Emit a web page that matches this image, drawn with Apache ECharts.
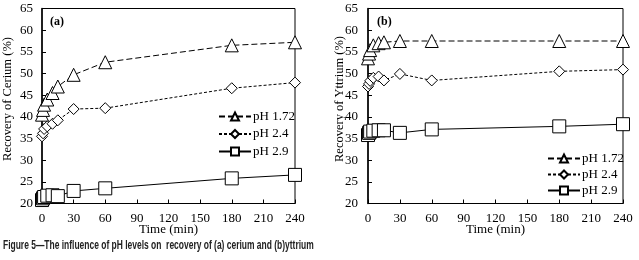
<!DOCTYPE html>
<html>
<head>
<meta charset="utf-8">
<script src="https://cdn.jsdelivr.net/npm/echarts@6/dist/echarts.min.js"></script>
<style>html,body{margin:0;padding:0;background:#fff}#c{width:639px;height:260px}</style>
</head>
<body>
<div id="c"></div>
<script>
var times = [0, 1, 2, 5, 10, 15, 30, 60, 180, 240];
var seriesNames = ['pH 1.72', 'pH 2.4', 'pH 2.9'];
var ceriumPH172 = [40.5, 41.6, 42.8, 44.0, 45.5, 47.0, 49.7, 52.6, 56.5, 57.2];
var ceriumPH24  = [35.5, 36.2, 37.2, 37.8, 38.4, 39.2, 41.8, 42.0, 46.6, 47.9];
var ceriumPH29  = [20.8, 21.2, 21.5, 21.8, 21.9, 21.7, 22.9, 23.5, 25.8, 26.6];
var yttriumPH172 = [53.5, 54.6, 55.4, 56.5, 57.0, 57.2, 57.5, 57.5, 57.5, 57.5];
var yttriumPH24  = [47.0, 47.6, 48.3, 49.0, 49.3, 48.4, 49.9, 48.4, 50.5, 50.9];
var yttriumPH29  = [35.8, 36.3, 36.6, 36.8, 36.9, 36.9, 36.3, 37.1, 37.8, 38.3];
var xTicks = {min: 0, max: 240, interval: 30};
var yTicks = {min: 20, max: 65, interval: 5};
var panelLabels = ['(a)', '(b)'];
var yTitles = ['Recovery of Cerium (%)', 'Recovery of Yttrium (%)'];
var xTitle = 'Time (min)';
var caption = 'Figure 5\u2014The influence of pH levels on  recovery of (a) cerium and (b)yttrium';

var FONT = 'Liberation Serif';
function pairs(v){ return times.map(function(t,i){ return [t, v[i]]; }); }

var styles = [
  {symbol: 'triangle', size: 13, line: {type: [6, 3], width: 1}},
  {symbol: 'diamond', size: 11, line: {type: [3, 2], width: 1}},
  {symbol: 'rect', size: 13, line: {type: 'solid', width: 1}}
];
var dataSets = [[ceriumPH172, ceriumPH24, ceriumPH29], [yttriumPH172, yttriumPH24, yttriumPH29]];

var grids = [
  {left: 41, top: 8.5, width: 254, height: 195, show: true, borderColor: '#000', borderWidth: 1},
  {left: 368, top: 8.5, width: 255, height: 195, show: true, borderColor: '#000', borderWidth: 1}
];
function xAxisFor(i){
  return {type: 'value', gridIndex: i, min: xTicks.min, max: xTicks.max, interval: xTicks.interval,
    name: xTitle, nameLocation: 'middle', nameGap: 20, nameMoveOverlap: false,
    nameTextStyle: {fontFamily: FONT, fontSize: 13, color: '#000'},
    axisLine: {lineStyle: {color: '#000', width: 1}},
    axisTick: {inside: true, length: 4, lineStyle: {color: '#000'}},
    axisLabel: {fontFamily: FONT, fontSize: 13, color: '#000', margin: 9},
    splitLine: {show: false}};
}
function yAxisFor(i){
  return {type: 'value', gridIndex: i, min: yTicks.min, max: yTicks.max, interval: yTicks.interval,
    name: yTitles[i], nameLocation: 'middle', nameGap: i === 0 ? 28 : 22, nameMoveOverlap: false,
    nameTextStyle: {fontFamily: FONT, fontSize: 12.5, color: '#000', padding: [0, 0, 0, 14]},
    axisLine: {lineStyle: {color: '#000', width: 1.5}},
    axisTick: {inside: true, length: 4, lineStyle: {color: '#000'}},
    axisLabel: {fontFamily: FONT, fontSize: 13, color: '#000', margin: i === 0 ? 9 : 10},
    splitLine: {show: false}};
}
var series = [];
for (var g = 0; g < 2; g++) {
  for (var s = 0; s < 3; s++) {
    series.push({
      type: 'line', name: seriesNames[s], xAxisIndex: g, yAxisIndex: g,
      data: pairs(dataSets[g][s]), symbol: styles[s].symbol, symbolSize: styles[s].size,
      showAllSymbol: true, clip: false, animation: false,
      lineStyle: {color: '#000', width: styles[s].line.width, type: styles[s].line.type},
      itemStyle: {color: '#fff', borderColor: '#000', borderWidth: 1}
    });
  }
}
function legendFor(left, top, gap){
  return {orient: 'vertical', left: left, top: top, itemWidth: 32, itemHeight: 10, itemGap: gap,
    data: seriesNames, padding: 0,
    textStyle: {fontFamily: FONT, fontSize: 13, color: '#000', padding: [0,0,0,-3]}};
}
var option = {
  animation: false,
  grid: grids,
  xAxis: [xAxisFor(0), xAxisFor(1)],
  yAxis: [yAxisFor(0), yAxisFor(1)],
  legend: [legendFor(218, 110, 4.5), legendFor(547, 152, 3)],
  series: series,
  graphic: [
    {type: 'text', left: 50, top: 16, style: {text: panelLabels[0], font: 'bold 12px "Liberation Serif"', fill: '#000'}},
    {type: 'text', left: 377, top: 16, style: {text: panelLabels[1], font: 'bold 12px "Liberation Serif"', fill: '#000'}},
    {type: 'text', x: 3, y: 240, scaleX: 0.705, style: {text: caption, font: 'bold 12px "Liberation Sans"', fill: '#222'}}
  ]
};
var chart = echarts.init(document.getElementById('c'));
chart.setOption(option);
</script>
</body>
</html>
